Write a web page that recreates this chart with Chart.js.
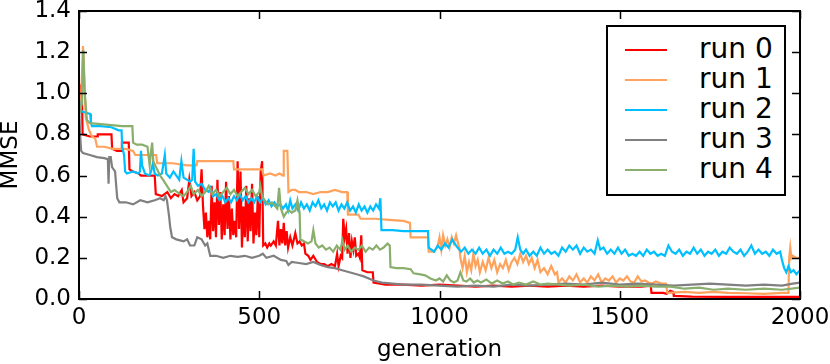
<!DOCTYPE html>
<html>
<head>
<meta charset="utf-8">
<script src="https://cdn.jsdelivr.net/npm/chart.js@4/dist/chart.umd.min.js"></script>
<style>
  body { margin: 0; background: #fff; }
  #wrap { position: relative; width: 830px; height: 364px; }
  #legend {
    position: absolute; left: 606px; top: 25px; width: 176px; height: 167px;
    border: 2px solid #000; background: #fff;
    font-family: "DejaVu Sans", sans-serif; font-size: 28px; color: #000;
  }
  #legend .row { position: absolute; left: 0; height: 30px; line-height: 30px; white-space: nowrap; }
  #legend .swatch { position: absolute; left: 17px; top: 14px; width: 42px; height: 2px; }
  #legend .lbl { position: absolute; left: 91px; top: -1px; }
</style>
</head>
<body>
<div id="wrap">
  <canvas id="chart" width="830" height="364"></canvas>
  <div id="legend"></div>
</div>
<script>
const runLabels = ['run 0', 'run 1', 'run 2', 'run 3', 'run 4'];
const runColors = ['#ff0000', '#ffa35c', '#00bfff', '#808080', '#8aae6c'];
const xTicks = [0, 500, 1000, 1500, 2000];
const yTicks = [0, 0.2, 0.4, 0.6, 0.8, 1.0, 1.2, 1.4];

// run 0 (red)
const run0Gen = [0, 5, 8, 10, 30, 50, 52, 70, 90, 92, 105, 118, 119, 138, 140, 150, 165, 172, 190, 210, 213, 230, 245, 255, 265, 275, 285, 290, 300, 306, 312, 320, 328, 336,
  340, 344, 348, 352, 356, 360, 364, 368, 372, 376, 380, 384, 388, 392, 396, 400, 404, 408, 412, 416, 420, 424, 428, 432, 436, 440, 444, 448, 452, 456, 460, 464, 468, 472, 476, 480, 484, 488, 492, 496, 500, 504, 508, 511,
  517, 522, 528, 532, 540, 546, 552, 556, 560, 564, 568, 572, 576, 580, 586, 592, 600, 606, 612, 618, 624, 628, 636, 642, 650, 660, 670, 680, 690, 700, 710, 716, 720, 726, 730,
  733, 737, 741, 745, 749, 753, 757, 761, 765, 769, 775, 779, 783, 786, 800, 815, 817, 850, 900, 950, 1000, 1050, 1100, 1150, 1200, 1250, 1300, 1350, 1400, 1450, 1500, 1560, 1586,
  1588, 1620, 1630, 1640, 1648, 1650, 1700, 1800, 1900, 2000];
const run0Val = [0.93, 1.02, 1.0, 0.80, 0.79, 0.79, 0.80, 0.80, 0.80, 0.73, 0.72, 0.72, 0.76, 0.76, 0.63, 0.62, 0.61, 0.60, 0.60, 0.60, 0.51, 0.50, 0.52, 0.49, 0.51, 0.50, 0.53, 0.47, 0.49, 0.58, 0.50, 0.52, 0.48, 0.50,
  0.63, 0.45, 0.34, 0.42, 0.30, 0.38, 0.29, 0.55, 0.33, 0.47, 0.30, 0.58, 0.36, 0.52, 0.29, 0.46, 0.31, 0.57, 0.34, 0.50, 0.29, 0.44, 0.31, 0.38, 0.30, 0.67, 0.34, 0.62, 0.25, 0.45, 0.30, 0.55, 0.28, 0.49, 0.33, 0.56, 0.27, 0.42, 0.31, 0.50, 0.30, 0.62, 0.67, 0.26,
  0.27, 0.25, 0.27, 0.26, 0.28, 0.26, 0.38, 0.26, 0.34, 0.27, 0.37, 0.26, 0.33, 0.25, 0.30, 0.26, 0.32, 0.27, 0.28, 0.26, 0.27, 0.22, 0.21, 0.19, 0.21, 0.18, 0.17, 0.17, 0.16, 0.17, 0.16, 0.22, 0.16, 0.21, 0.20,
  0.39, 0.30, 0.34, 0.22, 0.32, 0.20, 0.28, 0.24, 0.30, 0.21, 0.22, 0.20, 0.31, 0.14, 0.13, 0.13, 0.08, 0.07, 0.07, 0.065, 0.07, 0.065, 0.06, 0.065, 0.06, 0.065, 0.06, 0.065, 0.06, 0.065, 0.06, 0.06, 0.065,
  0.03, 0.03, 0.025, 0.04, 0.035, 0.015, 0.012, 0.01, 0.01, 0.01];

// run 1 (orange)
const run1Gen = [0, 5, 11, 16, 19, 28, 36, 45, 50, 70, 94, 110, 130, 150, 156, 170, 214, 217, 260, 300, 326, 328, 360, 400, 428, 430, 480, 508, 512, 530, 545, 556, 566, 568, 578, 581,
  590, 600, 610, 630, 650, 670, 690, 710, 730, 744, 746, 775, 781, 820, 860, 900, 918, 920, 968, 970, 985, 994, 1000, 1005, 1010, 1016, 1022, 1028, 1034, 1040, 1046, 1050, 1055,
  1058, 1064, 1070, 1076, 1082, 1088, 1094, 1100, 1106, 1112, 1120, 1128, 1136, 1144, 1152, 1160, 1168, 1176, 1184, 1192, 1200, 1208, 1216, 1224, 1232, 1240, 1248, 1256, 1264, 1272, 1280, 1290, 1300, 1310, 1320, 1326,
  1330, 1340, 1350, 1360, 1370, 1380, 1390, 1400, 1410, 1420, 1430, 1440, 1450, 1460, 1470, 1480, 1490, 1500, 1510, 1520, 1530, 1540, 1550, 1560, 1570, 1580, 1590, 1600, 1615, 1628,
  1632, 1680, 1720, 1760, 1800, 1850, 1900, 1950, 1968, 1970, 1973, 1976, 1980, 1990, 2000];
const run1Val = [0.90, 0.93, 1.23, 1.0, 0.88, 0.82, 0.79, 0.78, 0.74, 0.74, 0.73, 0.73, 0.73, 0.72, 0.70, 0.70, 0.70, 0.66, 0.66, 0.65, 0.65, 0.67, 0.67, 0.67, 0.67, 0.63, 0.63, 0.63, 0.60, 0.61, 0.60, 0.61, 0.60, 0.72, 0.72, 0.52,
  0.53, 0.53, 0.52, 0.52, 0.51, 0.52, 0.52, 0.53, 0.52, 0.52, 0.41, 0.41, 0.39, 0.39, 0.385, 0.38, 0.37, 0.30, 0.30, 0.23, 0.23, 0.25, 0.30, 0.24, 0.31, 0.26, 0.29, 0.25, 0.30, 0.27, 0.31, 0.28, 0.25,
  0.20, 0.15, 0.21, 0.13, 0.18, 0.14, 0.22, 0.16, 0.19, 0.13, 0.18, 0.14, 0.20, 0.15, 0.19, 0.13, 0.17, 0.15, 0.19, 0.14, 0.18, 0.20, 0.17, 0.22, 0.18, 0.21, 0.17, 0.20, 0.15, 0.19, 0.13, 0.15, 0.12, 0.16, 0.12, 0.13,
  0.08, 0.10, 0.08, 0.11, 0.09, 0.12, 0.08, 0.10, 0.08, 0.11, 0.09, 0.12, 0.08, 0.10, 0.09, 0.11, 0.08, 0.10, 0.09, 0.11, 0.085, 0.08, 0.11, 0.085, 0.09, 0.08, 0.075, 0.085, 0.075, 0.075,
  0.03, 0.035, 0.03, 0.035, 0.03, 0.028, 0.025, 0.03, 0.03, 0.20, 0.25, 0.20, 0.21, 0.20, 0.20];

// run 2 (blue)
const run2Gen = [0, 3, 10, 31, 33, 36, 60, 90, 110, 118, 120, 125, 128, 133, 150, 165, 169, 172, 175, 183, 195, 200, 205, 210, 218, 230, 238, 242, 252, 262, 270, 278, 284, 290, 300, 308, 314, 318, 322, 330, 340, 350, 360, 365,
  372, 380, 390, 398, 406, 414, 422, 430, 438, 446, 454, 462, 470, 478, 486, 494, 502, 510, 518, 526, 534, 542, 550, 558, 566, 574, 580, 586, 592, 600, 608, 616, 624, 632, 640, 648, 656, 664, 672, 680, 688, 696, 704, 712, 720, 728, 736, 744, 752, 760, 768, 776, 784, 792, 800, 808, 816, 824, 832, 836,
  839, 870, 900, 940, 968, 970, 985, 995, 1005, 1015, 1025, 1035, 1042, 1050, 1060, 1070, 1080, 1090, 1100, 1110, 1120, 1130, 1140, 1150, 1160, 1170, 1180, 1190, 1200, 1210, 1217, 1224, 1232, 1240, 1250, 1260, 1270, 1280, 1290, 1300,
  1310, 1320, 1330, 1340, 1350, 1360, 1370, 1380, 1390, 1400, 1410, 1420, 1430, 1439, 1446, 1455, 1465, 1475, 1485, 1495, 1505, 1515, 1525, 1535, 1545, 1555, 1565, 1575, 1585, 1595, 1605, 1615, 1625, 1635, 1645, 1655, 1665, 1675, 1685, 1695,
  1705, 1715, 1725, 1735, 1745, 1755, 1765, 1775, 1785, 1795, 1805, 1815, 1825, 1835, 1845, 1855, 1865, 1875, 1885, 1895, 1905, 1915, 1925, 1935, 1945, 1950, 1956, 1962, 1968, 1975, 1982, 1990, 2000];
const run2Val = [0.97, 0.92, 0.91, 0.90, 0.86, 0.84, 0.84, 0.835, 0.82, 0.82, 0.74, 0.70, 0.62, 0.61, 0.62, 0.61, 0.62, 0.72, 0.65, 0.61, 0.60, 0.62, 0.66, 0.61, 0.60, 0.61, 0.70, 0.61, 0.59, 0.62, 0.60, 0.58, 0.67, 0.59, 0.58, 0.57, 0.58, 0.73, 0.57, 0.55, 0.56, 0.53, 0.52, 0.54,
  0.50, 0.51, 0.48, 0.50, 0.47, 0.49, 0.47, 0.50, 0.48, 0.51, 0.48, 0.50, 0.47, 0.49, 0.47, 0.50, 0.47, 0.49, 0.46, 0.48, 0.45, 0.47, 0.45, 0.46, 0.44, 0.46, 0.43, 0.48, 0.44, 0.46, 0.43, 0.47, 0.44, 0.46, 0.43, 0.47, 0.45, 0.48, 0.44, 0.46, 0.43, 0.47, 0.45, 0.47, 0.43, 0.46, 0.44, 0.47, 0.43, 0.45, 0.42, 0.46, 0.43, 0.45, 0.42, 0.45, 0.43, 0.46, 0.44, 0.49,
  0.335, 0.335, 0.33, 0.33, 0.33, 0.25, 0.23, 0.26, 0.24, 0.27, 0.25, 0.29, 0.27, 0.25, 0.23, 0.25, 0.22, 0.24, 0.22, 0.25, 0.22, 0.24, 0.21, 0.24, 0.22, 0.25, 0.22, 0.23, 0.22, 0.24, 0.30, 0.24, 0.22, 0.24, 0.21, 0.23, 0.21, 0.25, 0.22, 0.24,
  0.22, 0.23, 0.21, 0.25, 0.23, 0.26, 0.24, 0.26, 0.22, 0.25, 0.23, 0.24, 0.22, 0.285, 0.24, 0.25, 0.22, 0.24, 0.22, 0.25, 0.22, 0.24, 0.21, 0.22, 0.21, 0.23, 0.21, 0.24, 0.22, 0.23, 0.21, 0.22, 0.21, 0.26, 0.23, 0.22, 0.24, 0.21, 0.23, 0.22,
  0.25, 0.22, 0.24, 0.21, 0.23, 0.22, 0.24, 0.21, 0.23, 0.22, 0.25, 0.23, 0.22, 0.24, 0.21, 0.23, 0.26, 0.22, 0.24, 0.22, 0.23, 0.21, 0.24, 0.22, 0.23, 0.19, 0.15, 0.13, 0.16, 0.13, 0.14, 0.12, 0.14];

// run 3 (gray)
const run3Gen = [0, 3, 6, 11, 30, 50, 70, 80, 82, 84, 88, 92, 100, 106, 112, 130, 150, 170, 190, 210, 225, 235, 240, 244, 250, 253, 258, 270, 290, 300, 308, 320, 328, 340, 350, 356, 364,
  380, 400, 420, 440, 460, 480, 500, 510, 520, 540, 560, 575, 581, 590, 610, 630, 650, 670, 690, 710, 730, 750, 770, 790, 817, 840, 870, 900, 950, 1000, 1050, 1100, 1150, 1200,
  1250, 1300, 1350, 1400, 1450, 1500, 1550, 1600, 1650, 1700, 1750, 1800, 1850, 1900, 1950, 1980, 2000];
const run3Val = [0.95, 0.80, 0.72, 0.71, 0.70, 0.69, 0.685, 0.68, 0.56, 0.69, 0.69, 0.64, 0.62, 0.49, 0.47, 0.47, 0.46, 0.48, 0.47, 0.48, 0.49, 0.48, 0.50, 0.48, 0.40, 0.35, 0.30, 0.29, 0.28, 0.29, 0.26, 0.26, 0.30, 0.29, 0.26, 0.27, 0.21,
  0.21, 0.20, 0.21, 0.205, 0.21, 0.20, 0.21, 0.22, 0.20, 0.21, 0.19, 0.185, 0.165, 0.18, 0.175, 0.17, 0.18, 0.165, 0.155, 0.15, 0.14, 0.13, 0.12, 0.11, 0.09, 0.08, 0.075, 0.07, 0.07, 0.065, 0.06, 0.065, 0.06, 0.07,
  0.065, 0.07, 0.075, 0.07, 0.08, 0.07, 0.075, 0.07, 0.065, 0.07, 0.075, 0.07, 0.065, 0.07, 0.065, 0.075, 0.08];

// run 4 (green)
const run4Gen = [0, 8, 12, 16, 22, 30, 60, 90, 120, 148, 150, 160, 175, 190, 196, 200, 203, 206, 214, 225, 233, 244, 255, 265, 280, 290, 300, 310, 318, 330, 340, 350, 360, 370, 380, 390, 400, 410, 420, 430, 440, 450, 460, 470, 480, 490, 500,
  503, 508, 515, 525, 535, 545, 550, 555, 560, 568, 575, 583, 590, 600, 606, 612, 614, 625, 635, 645, 650, 656, 665, 675, 685, 695, 705, 715, 725, 731, 737, 745, 755, 765, 775, 785, 795, 805, 815, 825, 835, 845, 856, 862,
  864, 880, 900, 920, 928, 947, 960, 975, 990, 1000, 1010, 1020, 1030, 1040, 1050, 1058, 1066, 1075, 1085, 1095, 1105, 1115, 1130, 1145, 1160, 1175, 1190, 1205, 1220, 1240, 1260, 1280, 1300,
  1330, 1360, 1400, 1440, 1480, 1520, 1560, 1600, 1640, 1680, 1720, 1760, 1800, 1850, 1900, 1950, 2000];
const run4Val = [0.90, 0.95, 1.21, 1.0, 0.87, 0.855, 0.85, 0.845, 0.84, 0.84, 0.76, 0.75, 0.75, 0.74, 0.65, 0.72, 0.76, 0.67, 0.64, 0.60, 0.58, 0.55, 0.52, 0.53, 0.51, 0.50, 0.52, 0.55, 0.51, 0.53, 0.50, 0.52, 0.55, 0.51, 0.53, 0.50, 0.52, 0.54, 0.51, 0.53, 0.50, 0.52, 0.54, 0.51, 0.53, 0.50, 0.52,
  0.55, 0.50, 0.48, 0.46, 0.47, 0.45, 0.44, 0.54, 0.44, 0.40, 0.42, 0.43, 0.42, 0.43, 0.48, 0.42, 0.29, 0.28, 0.27, 0.28, 0.335, 0.27, 0.25, 0.26, 0.24, 0.25, 0.23, 0.26, 0.24, 0.285, 0.24, 0.26, 0.23, 0.25, 0.24, 0.26, 0.23, 0.25, 0.24, 0.26, 0.24, 0.25, 0.27, 0.26,
  0.155, 0.15, 0.15, 0.145, 0.125, 0.12, 0.115, 0.10, 0.09, 0.10, 0.085, 0.115, 0.09, 0.08, 0.09, 0.13, 0.09, 0.085, 0.10, 0.08, 0.09, 0.08, 0.095, 0.075, 0.09, 0.075, 0.085, 0.07, 0.08, 0.07, 0.085, 0.07, 0.075,
  0.07, 0.065, 0.07, 0.06, 0.065, 0.06, 0.065, 0.06, 0.06, 0.05, 0.055, 0.045, 0.05, 0.045, 0.05, 0.045, 0.055];

const runGens = [run0Gen, run1Gen, run2Gen, run3Gen, run4Gen];
const runVals = [run0Val, run1Val, run2Val, run3Val, run4Val];

const FONT = { family: 'DejaVu Sans', size: 23 };

// box round the plot and inward ticks on all four sides
const frame = {
  id: 'frame',
  afterDatasetsDraw(chart) {
    const { ctx, chartArea: a, scales } = chart;
    ctx.save();
    ctx.strokeStyle = '#000';
    ctx.lineWidth = 1.5;
    ctx.beginPath();
    xTicks.forEach(v => {
      const px = Math.round(scales.x.getPixelForValue(v)) + 0.5;
      ctx.moveTo(px, a.bottom); ctx.lineTo(px, a.bottom - 8);
      ctx.moveTo(px, a.top); ctx.lineTo(px, a.top + 8);
    });
    yTicks.forEach(v => {
      const py = Math.round(scales.y.getPixelForValue(v)) + 0.5;
      ctx.moveTo(a.left, py); ctx.lineTo(a.left + 8, py);
      ctx.moveTo(a.right, py); ctx.lineTo(a.right - 8, py);
    });
    ctx.stroke();
    ctx.lineWidth = 2;
    ctx.strokeRect(a.left, a.top, a.right - a.left, a.bottom - a.top);
    ctx.restore();
  }
};

const chart = new Chart(document.getElementById('chart'), {
  type: 'line',
  data: {
    datasets: runLabels.map((label, i) => ({
      label: label,
      data: runGens[i].map((g, j) => ({ x: g, y: runVals[i][j] })),
      borderColor: runColors[i],
      borderWidth: 2.2,
      pointRadius: 0,
      tension: 0,
      fill: false,
      order: runLabels.length - i
    }))
  },
  options: {
    responsive: false,
    animation: false,
    devicePixelRatio: 1,
    layout: { padding: { top: 11, right: 30, left: 0, bottom: 0 } },
    plugins: { legend: { display: false }, tooltip: { enabled: false } },
    scales: {
      x: {
        type: 'linear', min: 0, max: 2000,
        afterBuildTicks: s => { s.ticks = xTicks.map(v => ({ value: v })); },
        afterFit: s => { s.height = 65; s.paddingLeft = 0; s.paddingRight = 0; },
        grid: { display: false, drawTicks: false },
        border: { display: false },
        ticks: { font: FONT, color: '#000', padding: 5, maxRotation: 0, callback: v => String(v) },
        title: { display: true, text: 'generation', font: FONT, color: '#000', padding: 0 }
      },
      y: {
        min: 0, max: 1.4,
        afterBuildTicks: s => { s.ticks = yTicks.map(v => ({ value: v })); },
        afterFit: s => { s.width = 79; s.paddingTop = 0; s.paddingBottom = 0; },
        grid: { display: false, drawTicks: false },
        border: { display: false },
        ticks: { font: FONT, color: '#000', padding: 8, callback: v => v.toFixed(1) },
        title: { display: true, text: 'MMSE', font: { ...FONT, lineHeight: 1.0 }, color: '#000', padding: 0 }
      }
    }
  },
  plugins: [frame]
});

// legend box built from the datasets
const legend = document.getElementById('legend');
chart.data.datasets.forEach((ds, i) => {
  const row = document.createElement('div');
  row.className = 'row';
  row.style.top = (8 + i * 30) + 'px';
  row.style.width = '100%';
  row.innerHTML = '<span class="swatch" style="background:' + ds.borderColor + '"></span><span class="lbl">' + ds.label + '</span>';
  legend.appendChild(row);
});
</script>
</body>
</html>
